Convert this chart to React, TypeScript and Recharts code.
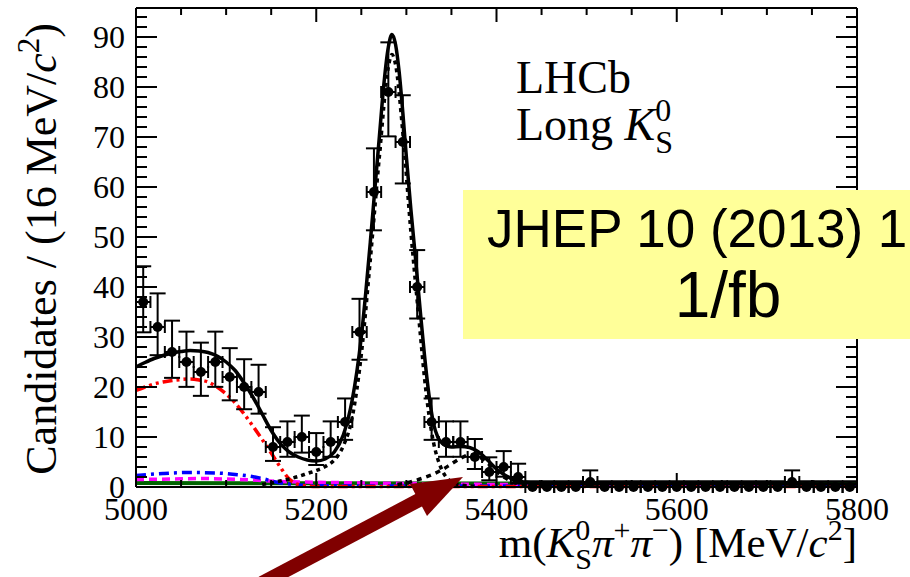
import React from 'react';
import {
  ComposedChart,
  ErrorBar,
  Line,
  ReferenceLine,
  Scatter,
  XAxis,
  YAxis,
} from 'recharts';

// histogram: 16 MeV bins from 5000 to 5800
const BIN_CENTRES = [
  5008, 5024, 5040, 5056, 5072, 5088, 5104, 5120, 5136, 5152,
  5168, 5184, 5200, 5216, 5232, 5248, 5264, 5280, 5296, 5312,
  5328, 5344, 5360, 5376, 5392, 5408, 5424, 5440, 5456, 5472,
  5488, 5504, 5520, 5536, 5552, 5568, 5584, 5600, 5616, 5632,
  5648, 5664, 5680, 5696, 5712, 5728, 5744, 5760, 5776, 5792,
];
const COUNTS = [
  37, 32, 27, 25, 23, 25, 22, 20, 19, 8,
  9, 10, 7, 9, 13, 31, 59, 79, 69, 40,
  13, 9, 9, 6, 3, 4, 2, 0, 0, 0,
  0, 1, 0, 0, 0, 0, 0, 0, 0, 0,
  0, 0, 0, 0, 0, 1, 0, 0, 0, 0,
];

// fit curves
const TOTAL_M = [
  5000, 5010, 5020, 5030, 5040, 5050, 5060, 5070, 5080, 5090, 5100, 5110, 5120,
  5130, 5140, 5150, 5160, 5170, 5180, 5190, 5200, 5210, 5220, 5230, 5240, 5245,
  5250, 5255, 5260, 5265, 5270, 5275, 5280, 5284, 5288, 5292, 5296, 5300, 5305,
  5310, 5315, 5320, 5325, 5330, 5335, 5340, 5345, 5350, 5360, 5370, 5380, 5390,
  5400, 5410, 5420, 5430, 5440, 5460, 5500, 5800,
];
const TOTAL_V = [
  24.0, 24.9, 25.7, 26.3, 26.8, 27.1, 27.3, 27.2, 26.9, 26.2, 25.0, 23.3, 20.8,
  17.9, 14.6, 11.3, 8.7, 7.0, 6.0, 5.4, 5.2, 5.6, 7.0, 10.4, 17.5, 23,
  30, 39, 49, 59.5, 70, 80.5, 88, 90.5, 88.5, 83, 75, 66, 55.5,
  46, 36, 26.5, 18.5, 12.8, 9.9, 8.7, 8.2, 8.0, 8.1, 7.9, 7.0, 5.4,
  3.6, 2.3, 1.4, 1.0, 0.8, 0.7, 0.7, 0.6,
];

const B0_M = [
  5140, 5150, 5160, 5170, 5180, 5190, 5200, 5210, 5220, 5230, 5240, 5250, 5260,
  5270, 5280, 5284, 5288, 5296, 5305, 5315, 5320, 5325, 5330, 5335, 5340, 5345,
  5350, 5360, 5380,
];
const B0_V = [
  0.5, 0.8, 1.2, 1.6, 2.1, 2.7, 3.3, 4.1, 5.4, 8.2, 14, 26.5, 45.5,
  66, 84, 86.5, 84.5, 71, 51, 31.5, 22, 14.5, 9, 5.5, 3.2, 1.8,
  1.0, 0.4, 0.1,
];

const BS_M = [5290, 5300, 5310, 5320, 5330, 5340, 5350, 5360, 5370, 5380, 5390, 5400, 5410, 5420, 5430, 5440, 5460];
const BS_V = [0.5, 0.8, 1.3, 1.9, 2.6, 3.5, 4.6, 5.7, 6.4, 6.1, 4.8, 3.1, 1.8, 0.9, 0.4, 0.15, 0];

const PARTREC_M = [
  5000, 5010, 5020, 5030, 5040, 5050, 5060, 5070, 5080, 5090, 5100, 5110,
  5120, 5130, 5140, 5150, 5160, 5170, 5180, 5190, 5200, 5800,
];
const PARTREC_V = [
  19.3, 20.0, 20.6, 21.0, 21.3, 21.5, 21.6, 21.4, 21.0, 20.0, 18.6, 16.8,
  14.6, 12.1, 9.5, 6.8, 4.0, 1.6, 0.5, 0.2, 0.1, 0.1,
];

const CROSS_M = [5000, 5030, 5060, 5090, 5110, 5125, 5140, 5155, 5170, 5185, 5200, 5300, 5800];
const CROSS_V = [2.3, 2.7, 2.9, 2.8, 2.5, 2.2, 1.7, 1.0, 0.6, 0.35, 0.25, 0.2, 0.2];

const MISID_M = [5000, 5040, 5070, 5100, 5130, 5160, 5220, 5300, 5400, 5600, 5800];
const MISID_V = [1.5, 1.6, 1.7, 1.6, 1.4, 1.1, 0.9, 0.7, 0.5, 0.4, 0.3];

const COMB_M = [5000, 5400, 5800];
const COMB_V = [0.8, 0.7, 0.6];

const X_TICKS = [
  5000, 5050, 5100, 5150, 5200, 5250, 5300, 5350, 5400,
  5450, 5500, 5550, 5600, 5650, 5700, 5750, 5800,
];
const X_LABELS = [5000, 5200, 5400, 5600, 5800];
const Y_TICKS = [
  0, 2, 4, 6, 8, 10, 12, 14, 16, 18, 20, 22, 24, 26, 28, 30, 32, 34, 36, 38,
  40, 42, 44, 46, 48, 50, 52, 54, 56, 58, 60, 62, 64, 66, 68, 70, 72, 74, 76,
  78, 80, 82, 84, 86, 88, 90, 92, 94,
];
const Y_LABELS = [0, 10, 20, 30, 40, 50, 60, 70, 80, 90];

const X_MIN = 5000;
const X_MAX = 5800;
const Y_MAX = 95.8;

const W = 910;
const H = 577;
const MARGIN = { top: 8, right: 53, bottom: 0, left: 0 };
const PLOT_TOP = MARGIN.top;
const PLOT_RIGHT = W - MARGIN.right;

const SERIF = '"Liberation Serif", "Times New Roman", serif';
const SANS = '"Liberation Sans", Arial, sans-serif';

const curve = (ms: number[], vs: number[]) => ms.map((m, i) => ({ m, v: vs[i] }));

const points = BIN_CENTRES.map((m, i) => {
  const n = COUNTS[i];
  // Poisson interval, as RooFit draws it
  const lo = n > 0 ? Math.sqrt(n - 0.25) : 0;
  const hi = n > 0 ? 1 + Math.sqrt(n + 0.75) : 1.15;
  return { m, n, ey: [lo, hi], ex: 8 };
});

const XTick = (props: any) => {
  const { x, y, payload } = props;
  const v = payload.value;
  const major = X_LABELS.includes(v);
  const len = major ? 14 : 7;
  return (
    <g>
      <line x1={x} y1={y} x2={x} y2={y - len} stroke="#000" strokeWidth={2} />
      <line x1={x} y1={PLOT_TOP} x2={x} y2={PLOT_TOP + len} stroke="#000" strokeWidth={2} />
      {major && (
        <text x={x} y={y + 33} textAnchor="middle" fontFamily={SERIF} fontSize={32} fill="#000">
          {v}
        </text>
      )}
    </g>
  );
};

const YTick = (props: any) => {
  const { x, y, payload } = props;
  const v = payload.value;
  const major = Y_LABELS.includes(v);
  const len = major ? 21 : 11;
  return (
    <g>
      <line x1={x} y1={y} x2={x + len} y2={y} stroke="#000" strokeWidth={2} />
      <line x1={PLOT_RIGHT} y1={y} x2={PLOT_RIGHT - len} y2={y} stroke="#000" strokeWidth={2} />
      {major && (
        <text x={x - 11} y={y} dy="0.35em" textAnchor="end" fontFamily={SERIF} fontSize={32} fill="#000">
          {v}
        </text>
      )}
    </g>
  );
};

const YTitle = (props: any) => {
  const vb = props.viewBox;
  const bx = vb.x + 56;
  const by = vb.y + 15;
  return (
    <text
      x={bx}
      y={by}
      transform={`rotate(-90, ${bx}, ${by})`}
      textAnchor="end"
      fontFamily={SERIF}
      fontSize={44}
      fill="#000"
    >
      Candidates / (16 MeV/<tspan fontStyle="italic">c</tspan>
      <tspan fontSize={31} dy={-17}>2</tspan>
      <tspan dy={17}>)</tspan>
    </text>
  );
};

const XTitle = (props: any) => {
  const vb = props.viewBox;
  return (
    <text x={vb.x + vb.width} y={vb.y + 70} textAnchor="end" fontFamily={SERIF} fontSize={43} fill="#000">
      m(<tspan fontStyle="italic">K</tspan>
      <tspan fontSize={30} dy={-17}>0</tspan>
      <tspan fontSize={30} dx={-15} dy={29}>S</tspan>
      <tspan fontStyle="italic" dy={-12}>π</tspan>
      <tspan fontSize={30} dy={-17}>+</tspan>
      <tspan fontStyle="italic" dy={17}>π</tspan>
      <tspan fontSize={30} dy={-17}>−</tspan>
      <tspan dy={17}>) [MeV/</tspan>
      <tspan fontStyle="italic">c</tspan>
      <tspan fontSize={30} dy={-17}>2</tspan>
      <tspan dy={17}>]</tspan>
    </text>
  );
};

const DataDot = (props: any) => <circle cx={props.cx} cy={props.cy} r={5} fill="#000" />;

const Annotations = () => (
  <svg
    width={W}
    height={H}
    style={{ position: 'absolute', left: 0, top: 0, pointerEvents: 'none' }}
  >
    <text x={516} y={93} fontFamily={SERIF} fontSize={46} fill="#000">LHCb</text>
    <text x={516} y={140} fontFamily={SERIF} fontSize={46} fill="#000">
      Long <tspan fontStyle="italic">K</tspan>
      <tspan fontSize={32} dy={-19}>0</tspan>
      <tspan fontSize={32} dx={-16} dy={32}>S</tspan>
    </text>
    <rect x={463} y={190} width={447} height={149} fill="#ffff99" />
    <text x={487} y={247} fontFamily={SANS} fontSize={53} fill="#000">JHEP 10 (2013) 1</text>
    <text x={728} y={317} textAnchor="middle" fontFamily={SANS} fontSize={64} fill="#000">1/fb</text>
    <line x1={262} y1={583} x2={421} y2={499} stroke="#800000" strokeWidth={14} />
    <polygon points="463,477 427,516 410,484" fill="#800000" />
  </svg>
);

export default function App() {
  return (
    <div style={{ position: 'absolute', left: 0, top: 0, width: W, height: H, background: '#fff', overflow: 'hidden' }}>
      <ComposedChart width={W} height={H} margin={MARGIN}>
        <XAxis
          dataKey="m"
          type="number"
          domain={[X_MIN, X_MAX]}
          ticks={X_TICKS}
          interval={0}
          height={90}
          tickSize={0}
          tickMargin={0}
          tickLine={false}
          tick={XTick}
          axisLine={{ stroke: '#000', strokeWidth: 2 }}
          label={<XTitle />}
        />
        <YAxis
          dataKey="n"
          type="number"
          domain={[0, Y_MAX]}
          ticks={Y_TICKS}
          interval={0}
          width={136}
          tickSize={0}
          tickMargin={0}
          tickLine={false}
          tick={YTick}
          axisLine={{ stroke: '#000', strokeWidth: 2 }}
          label={<YTitle />}
        />
        <ReferenceLine y={Y_MAX} stroke="#000" strokeWidth={2} />
        <ReferenceLine x={X_MAX} stroke="#000" strokeWidth={2} />

        <Line data={curve(COMB_M, COMB_V)} dataKey="v" type="monotone" stroke="#006400" strokeWidth={4} dot={false} isAnimationActive={false} />
        <Line data={curve(MISID_M, MISID_V)} dataKey="v" type="monotone" stroke="#ff00ff" strokeWidth={3.5} strokeDasharray="8 5" dot={false} isAnimationActive={false} />
        <Line data={curve(CROSS_M, CROSS_V)} dataKey="v" type="monotone" stroke="#0000ff" strokeWidth={3.5} strokeDasharray="10 5 3 5" dot={false} isAnimationActive={false} />
        <Line data={curve(PARTREC_M, PARTREC_V)} dataKey="v" type="monotone" stroke="#ff0000" strokeWidth={3.5} strokeDasharray="10 4 3 4 3 4" dot={false} isAnimationActive={false} />
        <Line data={curve(BS_M, BS_V)} dataKey="v" type="monotone" stroke="#000" strokeWidth={3.5} strokeDasharray="5 5" dot={false} isAnimationActive={false} />
        <Line data={curve(B0_M, B0_V)} dataKey="v" type="monotone" stroke="#000" strokeWidth={3.5} strokeDasharray="4 4" dot={false} isAnimationActive={false} />
        <Line data={curve(TOTAL_M, TOTAL_V)} dataKey="v" type="monotone" stroke="#000" strokeWidth={3.5} dot={false} isAnimationActive={false} />

        <Scatter data={points} shape={DataDot} isAnimationActive={false}>
          <ErrorBar dataKey="ex" direction="x" width={6} stroke="#000" strokeWidth={2} isAnimationActive={false} />
          <ErrorBar dataKey="ey" direction="y" width={8} stroke="#000" strokeWidth={2} isAnimationActive={false} />
        </Scatter>
      </ComposedChart>
      <Annotations />
    </div>
  );
}
